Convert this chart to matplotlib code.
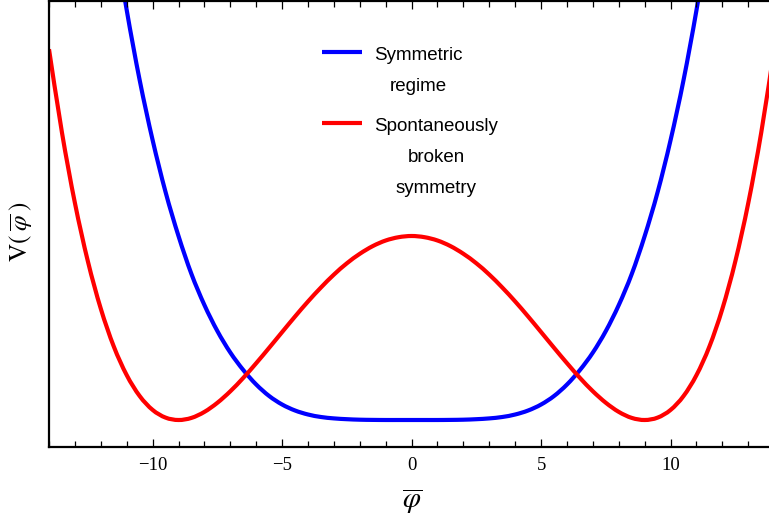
import numpy as np
import matplotlib
matplotlib.use("Agg")
import matplotlib.pyplot as plt
from matplotlib.path import Path
from matplotlib.patches import PathPatch
from matplotlib.ticker import MultipleLocator

plt.rcParams["mathtext.fontset"] = "stix"

# Field values (phi-bar) at which the potentials are sampled
phi = np.arange(-14.0, 14.5, 0.5)

# Symmetric regime: single minimum at phi = 0
v_symmetric = [1076, 929, 800, 684, 581, 490, 410, 340, 280, 228, 184, 146, 115, 89,
               67.5, 50, 35.5, 24, 15.5, 9.5, 5.5, 3.0, 1.6, 0.8, 0.3, 0.1, 0.0, 0.0,
               0.0,
               0.0, 0.0, 0.1, 0.3, 0.8, 1.6, 3.0, 5.5, 9.5, 15.5, 24, 35.5, 50, 67.5,
               89, 115, 146, 184, 228, 280, 340, 410, 490, 581, 684, 800, 929, 1076]

# Spontaneously broken symmetry: minima at phi = +/-9, local maximum at phi = 0
v_broken = [370.8, 287.5, 217.1, 158.8, 111.3, 73.6, 44.9, 24.0, 10.1, 2.4, 0.0, 2.1,
            8.1, 17.2, 28.7, 42.1, 56.8, 72.2, 87.9, 103.5, 118.5, 132.5, 145.4, 156.7,
            166.2, 173.9, 179.5, 182.8,
            184.0,
            182.8, 179.5, 173.9, 166.2, 156.7, 145.4, 132.5, 118.5, 103.5, 87.9, 72.2,
            56.8, 42.1, 28.7, 17.2, 8.1, 2.1, 0.0, 2.4, 10.1, 24.0, 44.9, 73.6, 111.3,
            158.8, 217.1, 287.5, 370.8]

series = [("Symmetric\nregime", v_symmetric, "#0000ff"),
          ("Spontaneously\nbroken\nsymmetry", v_broken, "#ff0000")]


def smooth_path(xs, ys):
    """Cubic Bezier path passing through every sample (Catmull-Rom tangents)."""
    pts = np.column_stack([xs, ys]).astype(float)
    n = len(pts)
    verts = [pts[0]]
    codes = [Path.MOVETO]
    for i in range(n - 1):
        p0 = pts[max(i - 1, 0)]
        p1 = pts[i]
        p2 = pts[i + 1]
        p3 = pts[min(i + 2, n - 1)]
        verts += [p1 + (p2 - p0) / 6.0, p2 - (p3 - p1) / 6.0, p2]
        codes += [Path.CURVE4] * 3
    return Path(verts, codes)


fig = plt.figure(figsize=(7.69, 5.23), dpi=100)
ax = fig.add_axes([49 / 769, 76 / 523, 725.2 / 769, 446 / 523])

for label, values, color in series:
    ax.add_patch(PathPatch(smooth_path(phi, values), facecolor="none",
                           edgecolor=color, lw=3.0, capstyle="butt",
                           joinstyle="round", transform=ax.transData))

ax.set_xlim(-14, 14)
ax.set_ylim(-27, 419)

for side in ("left", "bottom", "top"):
    ax.spines[side].set_linewidth(1.6)
ax.spines["right"].set_visible(False)

ax.xaxis.set_major_locator(MultipleLocator(5))
ax.xaxis.set_minor_locator(MultipleLocator(1))
ax.tick_params(axis="x", which="both", direction="in", top=True, bottom=True,
               width=0.9, color="black")
ax.tick_params(axis="x", which="major", length=6, pad=7)
ax.tick_params(axis="x", which="minor", length=4)
ax.tick_params(axis="y", which="both", left=False, right=False,
               labelleft=False)
for t in ax.get_xticklabels():
    t.set_fontfamily("Liberation Serif")
    t.set_fontsize(13.5)

ax.set_xlabel(r"$\overline{\varphi}$", fontsize=21, labelpad=9)
ax.set_ylabel(r"$\mathrm{V}(\;\overline{\varphi}\;)$", fontsize=18)
ax.yaxis.set_label_coords(-0.019, 0.484)

# Legend: short line sample with a centred multi-line caption beside it
legend_rows = [(0.8857, 0.5088), (0.7265, 0.5343)]
for (label, values, color), (yfrac, xtext) in zip(series, legend_rows):
    ax.plot([0.3765, 0.4316], [yfrac, yfrac], color=color, lw=3.0,
            transform=ax.transAxes, solid_capstyle="butt")
    ax.text(xtext, yfrac + 0.012, label, transform=ax.transAxes,
            ha="center", va="top", multialignment="center",
            fontsize=13.5, family="Liberation Sans", linespacing=2.1)

fig.savefig("out.png", dpi=100)
